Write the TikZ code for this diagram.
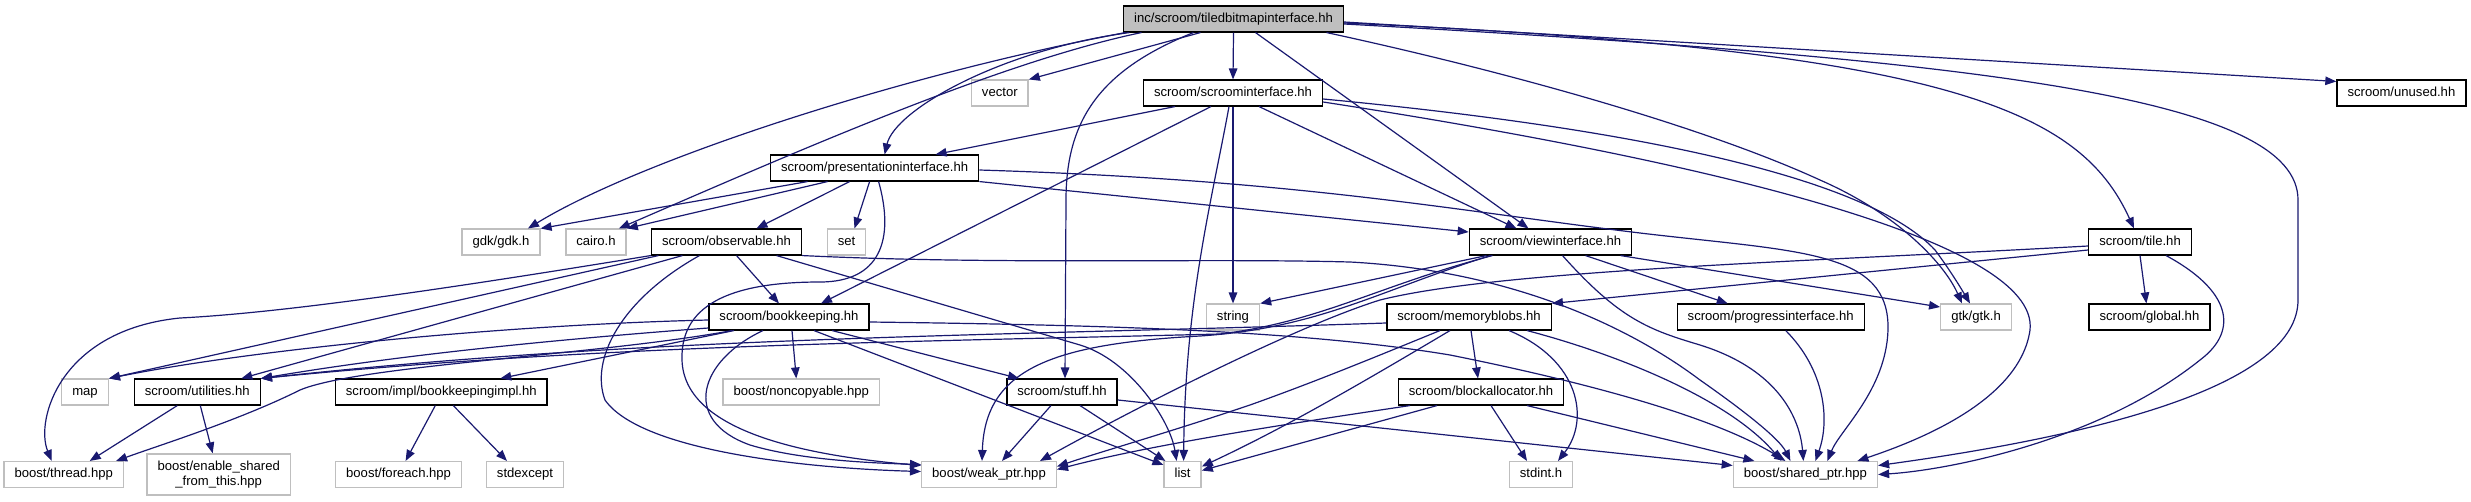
\documentclass[tikz,border=0pt]{standalone}
\usepackage{fontspec}
\setmainfont{Liberation Sans}
\usetikzlibrary{arrows.meta}

\definecolor{edgeblue}{HTML}{191970}
\definecolor{boxgray}{HTML}{BFBFBF}

\begin{document}
\begin{tikzpicture}[x=1pt, y=-1pt,
    box/.style={draw=black, line width=1.4pt, fill=white,
                font=\fontsize{13.1}{14.3}\selectfont, inner xsep=10.5pt,
                inner ysep=0pt, minimum height=25.7pt},
    file/.style={box, text height=9.6pt, text depth=2.8pt},
    ext/.style={file, draw=boxgray},
    root/.style={file, fill=boxgray},
    dep/.style={draw=edgeblue, line width=1.2pt,
                -{Triangle[length=11pt, width=8.5pt]}}
  ]
  \path[use as bounding box, fill=white] (0,0) rectangle (2471,501);

  \node[root] (main) at (1233.5,19) {inc/scroom/tiledbitmapinterface.hh};

  \node[ext] (vector) at (999.8,93) {vector};
  \node[file] (scroomif) at (1233,93) {scroom/scroominterface.hh};
  \node[file] (unused) at (2401.4,93) {scroom/unused.hh};

  \node[file] (presif) at (874.6,168) {scroom/presentationinterface.hh};

  \node[ext] (gdk) at (501,242) {gdk/gdk.h};
  \node[ext] (cairo) at (596,242) {cairo.h};
  \node[file] (observable) at (726.5,242) {scroom/observable.hh};
  \node[ext] (set) at (846.5,242) {set};
  \node[file] (viewif) at (1550.5,242) {scroom/viewinterface.hh};
  \node[file] (tile) at (2140,242) {scroom/tile.hh};

  \node[file] (bookkeeping) at (789,317) {scroom/bookkeeping.hh};
  \node[ext] (string) at (1233,317) {string};
  \node[file] (memoryblobs) at (1469,317) {scroom/memoryblobs.hh};
  \node[file] (progressif) at (1770.7,317) {scroom/progressinterface.hh};
  \node[ext] (gtk) at (1976,317) {gtk/gtk.h};
  \node[file] (global) at (2149.4,317) {scroom/global.hh};

  \node[ext] (map) at (85,392) {map};
  \node[file] (utilities) at (197.3,392) {scroom/utilities.hh};
  \node[file] (bkimpl) at (441.3,392) {scroom/impl/bookkeepingimpl.hh};
  \node[ext] (noncopyable) at (801.3,392) {boost/noncopyable.hpp};
  \node[file] (stuff) at (1062,392) {scroom/stuff.hh};
  \node[file] (blockalloc) at (1481,392) {scroom/blockallocator.hh};

  \node[ext] (thread) at (63.7,474.5) {boost/thread.hpp};
  \node[box, draw=boxgray, align=center, minimum height=41pt]
    (enable) at (218.7,474.5) {boost/enable\_shared\\\_from\_this.hpp};
  \node[ext] (foreach) at (398.6,474.5) {boost/foreach.hpp};
  \node[ext] (stdexcept) at (525,474.5) {stdexcept};
  \node[ext] (weakptr) at (989,474.5) {boost/weak\_ptr.hpp};
  \node[ext] (list) at (1182.6,474.5) {list};
  \node[ext] (stdint) at (1541,474.5) {stdint.h};
  \node[ext] (sharedptr) at (1805.4,474.5) {boost/shared\_ptr.hpp};

  % tiledbitmapinterface.hh
  \draw[dep] ([xshift=-108pt]main.south) .. controls (900,75) and (640,160) .. ([xshift=27pt]gdk.north);
  \draw[dep] ([xshift=-92pt]main.south) .. controls (1000,62) and (800,150) .. ([xshift=-8pt]cairo.north east);
  \draw[dep] ([xshift=-104pt]main.south) .. controls (1000,50) and (895,110) .. ([xshift=10pt]presif.north);
  \draw[dep] ([xshift=-33pt]main.south) -- (vector.north east);
  \draw[dep] (main.south) -- (scroomif.north);
  \draw[dep] ([xshift=-40pt]main.south) .. controls (1100,70) and (1066,120) .. (1066,200) -- ([xshift=3pt]stuff.north);
  \draw[dep] ([xshift=22pt]main.south) -- ([xshift=-22pt]viewif.north);
  \draw[dep] ([xshift=93pt]main.south) .. controls (1500,70) and (1700,125) .. (1820,180)
    .. controls (1900,215) and (1945,265) .. ([xshift=-14pt]gtk.north);
  \draw[dep] ([yshift=-3pt]main.east) -- ([yshift=-2pt]unused.north west);
  \draw[dep] ([yshift=-4pt]main.east) .. controls (1950,50) and (2080,110) .. ([xshift=-6pt]tile.north);
  \draw[dep] ([yshift=-5pt]main.east) .. controls (2000,60) and (2298,100) .. (2298,200) -- (2298,300)
    .. controls (2298,385) and (2100,435) .. ([yshift=9pt]sharedptr.east);

  % scroominterface.hh
  \draw[dep] ([xshift=-58pt]scroomif.south) -- ([xshift=61pt]presif.north);
  \draw[dep] ([xshift=-22pt]scroomif.south) -- ([xshift=32pt]bookkeeping.north);
  \draw[dep] ([xshift=-4pt]scroomif.south) .. controls (1212,200) and (1185,300) .. ([xshift=1pt]list.north);
  \draw[dep] (scroomif.south) -- (string.north);
  \draw[dep] ([xshift=26pt]scroomif.south) -- ([xshift=-34pt]viewif.north);
  \draw[dep] ([yshift=-6pt]scroomif.east) .. controls (1650,130) and (1870,180) .. (1935,250)
    .. controls (1950,270) and (1962,290) .. ([xshift=-6pt]gtk.north);
  \draw[dep] ([yshift=-9pt]scroomif.east) .. controls (1700,160) and (2040,240) .. (2030,330)
    .. controls (2020,400) and (1920,440) .. ([xshift=52pt]sharedptr.north);

  % presentationinterface.hh
  \draw[dep] ([xshift=-67pt]presif.south) -- (gdk.north east);
  \draw[dep] ([xshift=-47pt]presif.south) -- (cairo.north east);
  \draw[dep] ([xshift=-25pt]presif.south) -- ([xshift=30pt]observable.north);
  \draw[dep] ([xshift=-5pt]presif.south) -- ([xshift=8pt]set.north);
  \draw[dep] ([xshift=4pt]presif.south) .. controls (895,240) and (880,282) .. (820,282)
    .. controls (740,282) and (680,300) .. (682,360)
    .. controls (684,430) and (800,455) .. ([yshift=9pt]weakptr.west);
  \draw[dep] (presif.south east) -- ([yshift=10pt]viewif.west);
  \draw[dep] ([yshift=-2pt]presif.east) .. controls (1300,180) and (1450,210) .. (1640,233)
    .. controls (1800,252) and (1890,250) .. (1888,330)
    .. controls (1886,390) and (1840,430) .. ([xshift=22pt]sharedptr.north);

  % observable.hh
  \draw[dep] (observable.south west) .. controls (500,280) and (300,312) .. (180,318)
    .. controls (60,330) and (35,420) .. ([xshift=-12pt]thread.north);
  \draw[dep] ([xshift=-68pt]observable.south) -- (map.north east);
  \draw[dep] ([xshift=-44pt]observable.south) -- ([xshift=44pt]utilities.north);
  \draw[dep] ([xshift=-27pt]observable.south) .. controls (620,300) and (590,360) .. (605,400)
    .. controls (640,450) and (800,468) .. ([yshift=3pt]weakptr.west);
  \draw[dep] ([xshift=10pt]observable.south) -- ([xshift=-10pt]bookkeeping.north);
  \draw[dep] ([xshift=50pt]observable.south) -- (1080,345) .. controls (1130,360) and (1170,420) .. ([xshift=-6pt]list.north);
  \draw[dep] (observable.south east) .. controls (1000,265) and (1200,258) .. (1350,262)
    .. controls (1500,270) and (1620,320) .. (1700,380)
    .. controls (1750,415) and (1780,440) .. ([xshift=-15pt]sharedptr.north);

  % bookkeeping.hh
  \draw[dep] ([yshift=-3pt]bookkeeping.west) .. controls (500,325) and (250,350) .. (map.north east);
  \draw[dep] ([yshift=-11pt]bookkeeping.west) .. controls (550,340) and (400,355) .. (utilities.north east);
  \draw[dep] ([xshift=-57pt]bookkeeping.south) .. controls (600,355) and (360,365) .. (300,390)
    .. controls (240,420) and (160,445) .. ([xshift=-8pt]thread.north east);
  \draw[dep] ([xshift=-55pt]bookkeeping.south) -- ([xshift=59pt]bkimpl.north);
  \draw[dep] ([xshift=-26pt]bookkeeping.south) .. controls (700,360) and (680,420) .. (750,445)
    .. controls (800,460) and (870,463) .. ([yshift=10pt]weakptr.west);
  \draw[dep] ([xshift=3pt]bookkeeping.south) -- ([xshift=-5pt]noncopyable.north);
  \draw[dep] ([xshift=43pt]bookkeeping.south) -- ([xshift=-43pt]stuff.north);
  \draw[dep] ([xshift=25pt]bookkeeping.south) -- ([yshift=-4pt]list.north west);
  \draw[dep] ([yshift=-5pt]bookkeeping.east) .. controls (1100,325) and (1300,330) .. (1450,355)
    .. controls (1600,385) and (1720,420) .. ([xshift=-20pt]sharedptr.north);

  % utilities.hh, bookkeepingimpl.hh, stuff.hh
  \draw[dep] ([xshift=-20pt]utilities.south) -- ([xshift=26pt]thread.north);
  \draw[dep] ([xshift=3pt]utilities.south) -- ([xshift=-6pt]enable.north);
  \draw[dep] ([xshift=-6pt]bkimpl.south) -- ([xshift=7pt]foreach.north);
  \draw[dep] ([xshift=12pt]bkimpl.south) -- ([xshift=-18pt]stdexcept.north);
  \draw[dep] ([xshift=-11pt]stuff.south) -- ([xshift=13pt]weakptr.north);
  \draw[dep] ([xshift=18pt]stuff.south) -- ([xshift=2pt]list.north west);
  \draw[dep] ([yshift=-8pt]stuff.east) -- ([yshift=9pt]sharedptr.west);

  % viewinterface.hh
  \draw[dep] ([xshift=-64pt]viewif.south) -- (string.north east);
  \draw[dep] ([xshift=-58pt]viewif.south) .. controls (1380,285) and (1320,322) .. (1220,334)
    .. controls (900,342) and (600,345) .. (utilities.north east);
  \draw[dep] ([xshift=-60pt]viewif.south) .. controls (1380,290) and (1320,328) .. (1200,336)
    .. controls (1050,344) and (985,370) .. ([xshift=-7pt]weakptr.north);
  \draw[dep] ([xshift=35pt]viewif.south) -- ([xshift=-43pt]progressif.north);
  \draw[dep] ([xshift=70pt]viewif.south) -- ([yshift=10pt]gtk.west);
  \draw[dep] ([xshift=12pt]viewif.south) .. controls (1620,320) and (1650,330) .. (1700,345)
    .. controls (1780,370) and (1800,420) .. ([xshift=-2pt]sharedptr.north);

  % memoryblobs.hh
  \draw[dep] ([yshift=-6pt]memoryblobs.west) .. controls (1000,336) and (650,336) .. (utilities.north east);
  \draw[dep] ([xshift=-29pt]memoryblobs.south) .. controls (1380,355) and (1320,380) .. (1250,405)
    .. controls (1170,432) and (1100,452) .. ([yshift=8pt]weakptr.east);
  \draw[dep] ([xshift=-19pt]memoryblobs.south) .. controls (1350,390) and (1280,430) .. ([yshift=8pt]list.east);
  \draw[dep] ([xshift=2pt]memoryblobs.south) -- ([xshift=-3pt]blockalloc.north);
  \draw[dep] ([xshift=40pt]memoryblobs.south) .. controls (1580,360) and (1590,420) .. ([xshift=17pt]stdint.north);
  \draw[dep] ([xshift=58pt]memoryblobs.south) .. controls (1620,355) and (1730,400) .. ([xshift=-24pt]sharedptr.north);

  % blockallocator.hh, progressinterface.hh
  \draw[dep] ([xshift=-71pt]blockalloc.south) .. controls (1280,425) and (1150,445) .. ([yshift=5pt]weakptr.east);
  \draw[dep] ([xshift=-44pt]blockalloc.south) -- ([yshift=4pt]list.east);
  \draw[dep] ([xshift=10pt]blockalloc.south) -- ([xshift=-14pt]stdint.north);
  \draw[dep] ([xshift=46pt]blockalloc.south) -- ([xshift=-51pt]sharedptr.north);
  \draw[dep] ([xshift=15pt]progressif.south) .. controls (1825,370) and (1830,420) .. ([xshift=10pt]sharedptr.north);

  % tile.hh
  \draw[dep] ([yshift=-8pt]tile.west) -- (memoryblobs.north east);
  \draw[dep] ([yshift=-4pt]tile.west) .. controls (1800,262) and (1500,270) .. (1380,300)
    .. controls (1300,325) and (1150,400) .. ([xshift=51pt]weakptr.north);
  \draw[dep] (tile.south) -- ([xshift=-3pt]global.north);
  \draw[dep] ([xshift=26pt]tile.south) .. controls (2230,290) and (2240,330) .. (2200,360)
    .. controls (2100,440) and (1950,470) .. (sharedptr.east);
\end{tikzpicture}
\end{document}
